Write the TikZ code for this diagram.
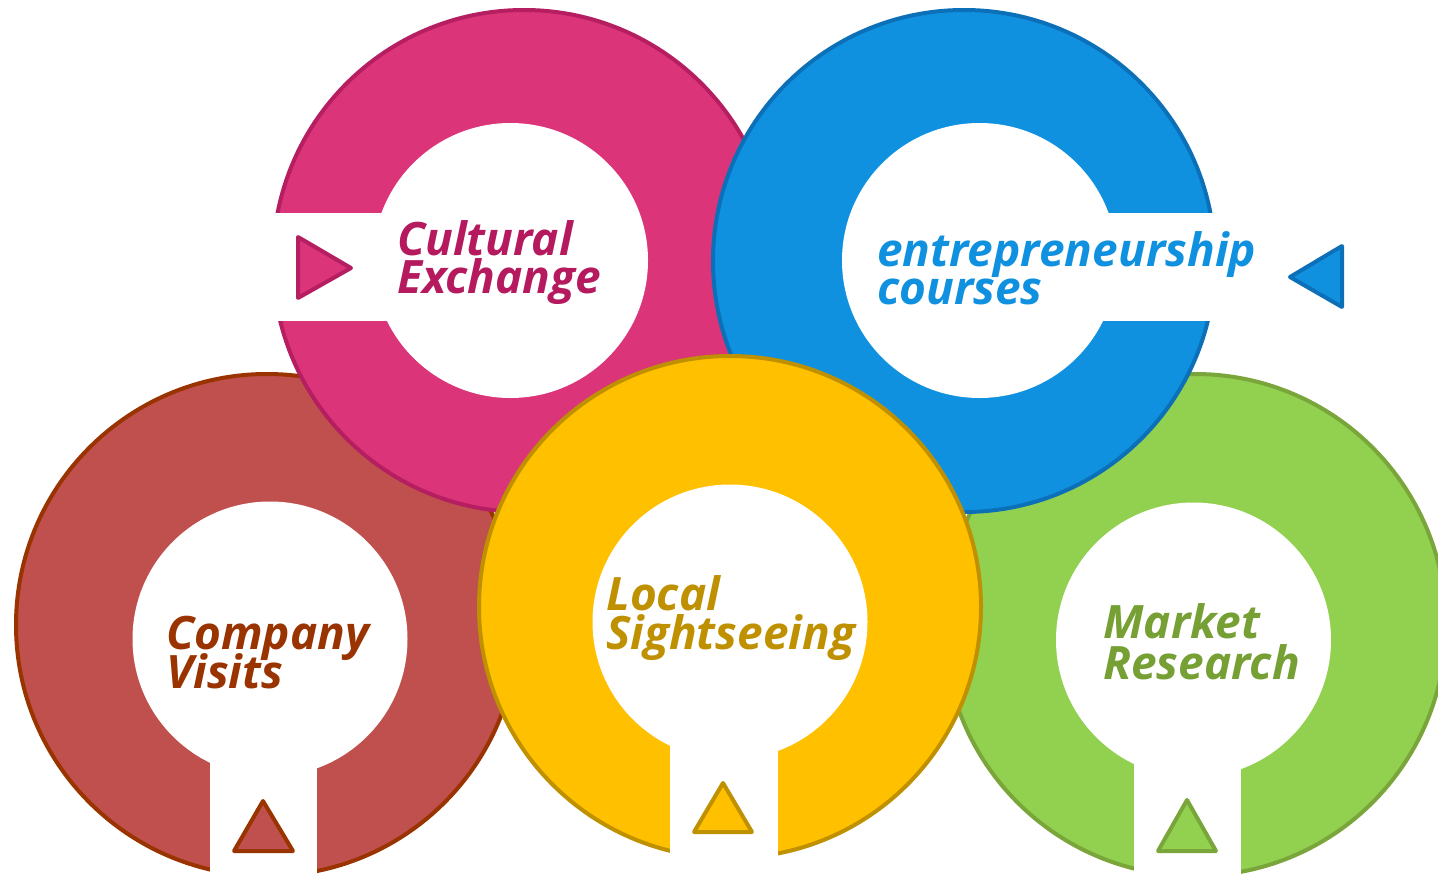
\documentclass[tikz,border=0pt]{standalone}
\usepackage{fontspec}
\setmainfont{Open Sans}
\definecolor{pkF}{HTML}{DB3479}
\definecolor{pkB}{HTML}{B51E60}
\definecolor{pkT}{HTML}{B5195E}
\definecolor{blF}{HTML}{1091E0}
\definecolor{blB}{HTML}{0C70B8}
\definecolor{blT}{HTML}{1091E0}
\definecolor{brF}{HTML}{C0504D}
\definecolor{brB}{HTML}{993300}
\definecolor{brT}{HTML}{993300}
\definecolor{ylF}{HTML}{FFC000}
\definecolor{ylB}{HTML}{BF9000}
\definecolor{ylT}{HTML}{BF9000}
\definecolor{grF}{HTML}{92D050}
\definecolor{grB}{HTML}{7AA53A}
\definecolor{grT}{HTML}{76A034}
\newcommand\mytwolines[3]{\vtop{\baselineskip=#1\lineskiplimit=-100pt\lineskip=0pt\hbox{#2}\hbox{#3}}}
\tikzset{
  ringborder/.style={line width=4pt},
  tri/.style={line width=4pt, line join=round},
  lbl/.style={anchor=base west, inner sep=0pt, font=\fontsize{46}{46}\selectfont\bfseries\itshape},
}
\begin{document}
\begin{tikzpicture}[x=1pt,y=-1pt]
\useasboundingbox (0,0) rectangle (1438,875);
% brown ring
\fill[brF] (267,625) circle[radius=251];
\draw[brB, ringborder] (267,625) circle[radius=251];
\fill[white] (270,639) circle[radius=137.5];
\fill[white] (210,639) rectangle (317,880);
% green ring
\fill[grF] (1195,625) circle[radius=251];
\draw[grB, ringborder] (1195,625) circle[radius=251];
\fill[white] (1193.5,640) circle[radius=137.5];
\fill[white] (1134,640) rectangle (1241,880);
% pink ring
\fill[pkF] (524,261) circle[radius=251];
\draw[pkB, ringborder] (524,261) circle[radius=251];
\fill[white] (510.5,260.5) circle[radius=137.5];
\fill[white] (260,213) rectangle (510.5,321);
% blue ring
\fill[blF] (964,261) circle[radius=251];
\draw[blB, ringborder] (964,261) circle[radius=251];
\fill[white] (979.5,260.5) circle[radius=137.5];
\fill[white] (979.5,213) rectangle (1230,321);
% yellow ring
\fill[ylF] (730,607) circle[radius=251];
\draw[ylB, ringborder] (730,607) circle[radius=251];
\fill[white] (730,622) circle[radius=137.5];
\fill[white] (670,622) rectangle (778,880);
% triangles
\draw[pkB, fill=pkF, tri] (298,237) -- (351,268) -- (298,298) -- cycle;
\draw[blB, fill=blF, tri] (1342,246) -- (1290,277) -- (1342,307) -- cycle;
\draw[brB, fill=brF, tri] (263,801) -- (234,851) -- (293,851) -- cycle;
\draw[ylB, fill=ylF, tri] (723,783) -- (694,832) -- (752,832) -- cycle;
\draw[grB, fill=grF, tri] (1187,800) -- (1158,851) -- (1216,851) -- cycle;
% labels
\node[lbl, text=pkT] (ce) at (397,255) {\mytwolines{38pt}{Cultural}{Exchange}};
\node[lbl, text=blT] (ec) at (877,266) {\mytwolines{38pt}{entrepreneurship}{courses}};
\node[lbl, text=brT] (cv) at (166,649) {\mytwolines{39pt}{Company}{Visits}};
\node[lbl, text=ylT] (ls) at (606,610) {\mytwolines{39pt}{Local}{Sightseeing}};
\node[lbl, text=grT] (mr) at (1103,638) {\mytwolines{41pt}{Market}{Research}};
\end{tikzpicture}
\end{document}
